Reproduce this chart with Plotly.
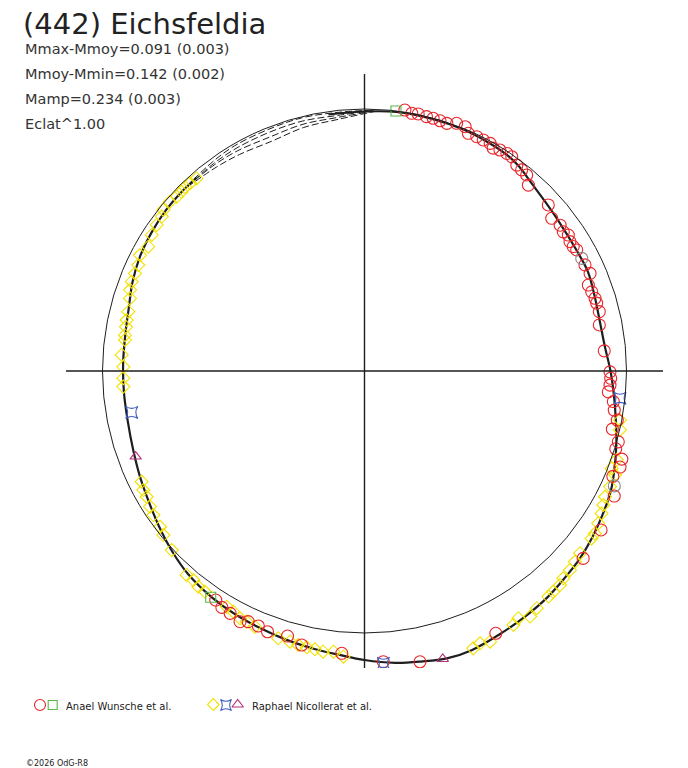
import numpy as np
import plotly.graph_objects as go

# ---------------- data (phase angle in degrees clockwise from top, radial value) ----------------
curve_theta = [-8, 0, 7, 15, 22, 28, 33, 37, 42, 47, 53, 60, 66, 72, 78, 84, 90, 96, 101, 106, 111,
               116, 121, 126, 131, 136, 141, 147, 153, 159, 164, 169, 174, 180, 185, 190, 196, 202,
               208, 214, 221, 227, 233, 239, 245, 251, 258, 265, 272, 279, 285, 291, 297, 303, 309,
               314, 319]
curve_r = [259, 259.5, 261, 261, 261, 260, 259, 256.5, 251, 247.5, 245, 244, 244.5, 242, 240.5, 241.5,
           246, 251, 256, 262, 268, 274, 278, 282, 285.5, 288, 291, 293.5, 296, 299, 299, 296, 293.5,
           289, 285, 282.5, 280, 277.5, 275.5, 273, 269, 263.5, 257.5, 252, 248, 244.5, 242, 241.5,
           241.5, 242, 244, 248.5, 252, 254, 255.5, 256, 256]

gap_theta = [316, 324, 330, 338, 346, 354, 362]
gap_r1 = [256.5, 258.5, 260, 260, 260.8, 260, 261]
gap_r2 = [256, 256.5, 257, 257, 257.5, 257, 260.5]
gap_r3 = [256, 255, 254.2, 252.4, 254.3, 255, 260]
gap_r4 = [255.5, 252, 250, 247.8, 251, 253, 259.5]

ref_radius = 262

anael_circ_theta = [8.8, 10.4, 11.8, 13.7, 15.2, 16.8, 18.4, 20.4, 22.4, 23.6, 25.6, 27.2, 28.9, 30, 31.5,
                    33.2, 34.5, 36.5, 38, 39.6, 41.4, 47.9, 50.8, 53.3, 55, 56.3, 57.8, 59.2, 60.3, 64.3,
                    66.6, 69, 70.8, 72.5, 73.7, 75.8, 78.9, 85.2, 90.2, 91.7, 93.3, 94.9, 97, 98.9, 101,
                    103.2, 105.6, 107.2, 108.9, 110.6, 113, 116.6, 123.9, 130.6, 153.4, 169.2, 176.3,
                    184.6, 192.9, 196.2, 200.4, 202.6, 204.9, 206.4, 209, 211.1, 213]
anael_circ_r = [264.1, 262, 262.6, 261.8, 261.9, 261.4, 261, 264.3, 264.2, 259.4, 259.8, 259.8, 260, 257.3,
                259.2, 260, 260, 256.1, 255.2, 254.4, 247.8, 247.7, 241.6, 244, 242.7, 245, 242.8, 243,
                244.3, 244.7, 245.8, 239.8, 240.6, 241.7, 241.9, 242.2, 239.3, 240.6, 245.5, 246.3, 245.9,
                244.7, 250.7, 252.8, 257.5, 254.6, 263.5, 263, 272, 273, 269.8, 279.3, 285, 288, 293.3,
                296, 291.3, 283.2, 281.1, 276, 278.2, 276.2, 276.3, 279.9, 277.1, 276.1, 273.1]
anael_sq_theta = [6.9, 214.2]
anael_sq_r = [261.9, 273.6]
anael_gray_theta = [62.6, 114.7]
anael_gray_r = [244.7, 275]

raph_dia_theta = [100.9, 103, 109.4, 111.5, 112.5, 115.2, 117.6, 119.3, 121, 123.1, 125.2, 126.4, 130.2,
                  132.2, 134.1, 136.2, 137.6, 139.5, 140.8, 144, 146, 148.1, 149.6, 155.1, 157, 158.6,
                  221.1, 219.3, 217.6, 215.9, 210.3, 208.6, 206.7, 205.2, 203.2, 197.9, 195.4, 193.6,
                  191.8, 190.1, 188.4, 186.3, 184.2,
                  297.3, 295.1, 293, 291, 289.1, 287.2, 284.1, 282.1, 280.5, 278.5, 277.4, 273.8, 271,
                  268.3, 266.3, 243.6, 241.7, 240, 237.7, 235.7, 232.7, 230.8, 227.1,
                  299.9, 302.6, 305.1, 307.3, 308.7, 311, 312.9, 314.4, 315.7, 317.1, 318.9]
raph_dia_r = [260.2, 262.2, 267.4, 265.7, 271.2, 271.4, 271.4, 273.8, 276.6, 279, 281.9, 282.2, 282.3,
              284, 286.1, 287.2, 289.9, 290.4, 291.1, 293.2, 296.2, 291.2, 294.4, 298.4, 295.8, 297.9,
              270.6, 270.2, 272.3, 272.3, 273, 274.1, 276.9, 277, 278.2, 280.9, 280.8, 281.9,
              282.3, 282.7, 283.7, 282.4, 286.5,
              252.7, 249.8, 249.4, 249.3, 248.1, 245.5, 243.5, 243.2, 242.6, 242.2, 241.5, 243.3, 241.2,
              241.3, 241.7, 248.8, 251.2, 251.5, 253.8, 255.6, 257, 259.6, 263.1,
              249.4, 252.5, 254, 254.8, 257.7, 257.9, 256.2, 256.1, 256.8, 256.3, 255.5]
raph_star_theta = [96.1, 259.9, 176.3]
raph_star_r = [257, 236.4, 292.9]
raph_tri_theta = [249.5, 164.8]
raph_tri_r = [244.3, 298.4]

title_text = "(442) Eichsfeldia"
info_lines = ["Mmax-Mmoy=0.091 (0.003)", "Mmoy-Mmin=0.142 (0.002)", "Mamp=0.234 (0.003)", "Eclat^1.00"]
legend_a = "Anael Wunsche et al."
legend_b = "Raphael Nicollerat et al."
copyright_text = "\u00a92026 OdG-R8"

# ---------------- styles ----------------
RED = "#e8262b"
GREEN = "#58b848"
YELLOW = "#f2e200"
BLUE = "#3f5fc0"
MAGENTA = "#b5307a"
GRAY = "#8a8a8a"
INK = "#1e1e1e"
W, H = 688, 768


def xy(theta, r):
    t = np.radians(np.asarray(theta, dtype=float))
    r = np.asarray(r, dtype=float)
    return r * np.sin(t), r * np.cos(t)


fig = go.Figure()

# gap model curves (thin dashed)
for gr in (gap_r1, gap_r2, gap_r3, gap_r4):
    gx, gy = xy(gap_theta, gr)
    fig.add_trace(go.Scatter(x=gx, y=gy, mode="lines",
                             line=dict(color=INK, width=1, dash="7px,3px", shape="spline"),
                             hoverinfo="skip", showlegend=False))

# main light curve
cx, cy = xy(curve_theta, curve_r)
fig.add_trace(go.Scatter(x=cx, y=cy, mode="lines", line=dict(color=INK, width=2.2, shape="spline"),
                         hoverinfo="skip", showlegend=False))


def pts(theta, r, symbol, color, size):
    px_, py_ = xy(theta, r)
    fig.add_trace(go.Scatter(x=px_, y=py_, mode="markers",
                             marker=dict(symbol=symbol, size=size, color=color,
                                         line=dict(color=color, width=1.1)),
                             hoverinfo="skip", showlegend=False))


pts(raph_dia_theta, raph_dia_r, "diamond-open", YELLOW, 10)
pts(anael_circ_theta, anael_circ_r, "circle-open", RED, 12)
pts(anael_gray_theta, anael_gray_r, "circle-open", GRAY, 12)
pts(anael_sq_theta, anael_sq_r, "square-open", GREEN, 10)
pts(raph_star_theta, raph_star_r, "star-square-open", BLUE, 11)
pts(raph_tri_theta, raph_tri_r, "triangle-up-open", MAGENTA, 10)

# legend icons on an overlay pixel axis
leg_sym = ["circle-open", "square-open", "diamond-open", "star-square-open", "triangle-up-open"]
leg_col = [RED, GREEN, YELLOW, BLUE, MAGENTA]
leg_x = [40, 52.7, 213.3, 226, 237.7]
leg_y = [705, 705, 704.5, 705, 704.5]
leg_size = [11, 9, 9, 10, 10]
for s, c, lx, ly, sz in zip(leg_sym, leg_col, leg_x, leg_y, leg_size):
    fig.add_trace(go.Scatter(x=[lx], y=[ly], mode="markers", xaxis="x2", yaxis="y2",
                             marker=dict(symbol=s, size=sz, color=c, line=dict(color=c, width=1.1)),
                             showlegend=False, hoverinfo="skip"))

R_X, R_Y = 298.5, 297
shapes = [
    dict(type="circle", xref="x", yref="y", x0=-ref_radius, x1=ref_radius, y0=-ref_radius, y1=ref_radius,
         line=dict(color=INK, width=1)),
    dict(type="line", xref="x", yref="y", x0=-R_X, x1=R_X, y0=0, y1=0, line=dict(color=INK, width=1.4)),
    dict(type="line", xref="x", yref="y", x0=0, x1=0, y0=-R_Y, y1=R_Y, line=dict(color=INK, width=1.4)),
]

ann = [dict(text=title_text, x=21 / W, y=1 - 23.5 / H, xref="paper", yref="paper", xanchor="left",
            yanchor="middle", showarrow=False, font=dict(family="DejaVu Sans", size=29, color="#222"))]
for i, t in enumerate(info_lines):
    ann.append(dict(text=t, x=23 / W, y=1 - (49 + 25 * i) / H, xref="paper", yref="paper", xanchor="left",
                    yanchor="middle", showarrow=False, font=dict(family="DejaVu Sans", size=14.5, color="#333")))
ann.append(dict(text=legend_a, x=64 / W, y=1 - 706 / H, xref="paper", yref="paper", xanchor="left",
                yanchor="middle", showarrow=False, font=dict(family="DejaVu Sans", size=10, color="#222")))
ann.append(dict(text=legend_b, x=250 / W, y=1 - 706 / H, xref="paper", yref="paper", xanchor="left",
                yanchor="middle", showarrow=False, font=dict(family="DejaVu Sans", size=10, color="#222")))
ann.append(dict(text=copyright_text, x=24 / W, y=1 - 763 / H, xref="paper", yref="paper", xanchor="left",
                yanchor="middle", showarrow=False, font=dict(family="DejaVu Sans", size=8, color="#222")))

fig.update_layout(
    width=W, height=H, margin=dict(l=0, r=0, t=0, b=0),
    paper_bgcolor="white", plot_bgcolor="rgba(0,0,0,0)",
    xaxis=dict(range=[-R_X, R_X], domain=[66 / W, 663 / W], visible=False, fixedrange=True),
    yaxis=dict(range=[-R_Y, R_Y], domain=[(H - 668) / H, (H - 74) / H], visible=False, fixedrange=True),
    xaxis2=dict(range=[0, W], domain=[0, 1], anchor="y2", visible=False, fixedrange=True),
    yaxis2=dict(range=[H, 0], domain=[0, 1], anchor="x2", visible=False, fixedrange=True),
    shapes=shapes, annotations=ann, showlegend=False,
)

fig.write_html("out.html", config={"displayModeBar": False},
               post_script="document.body.style.margin='0px';document.body.style.overflow='hidden';")
